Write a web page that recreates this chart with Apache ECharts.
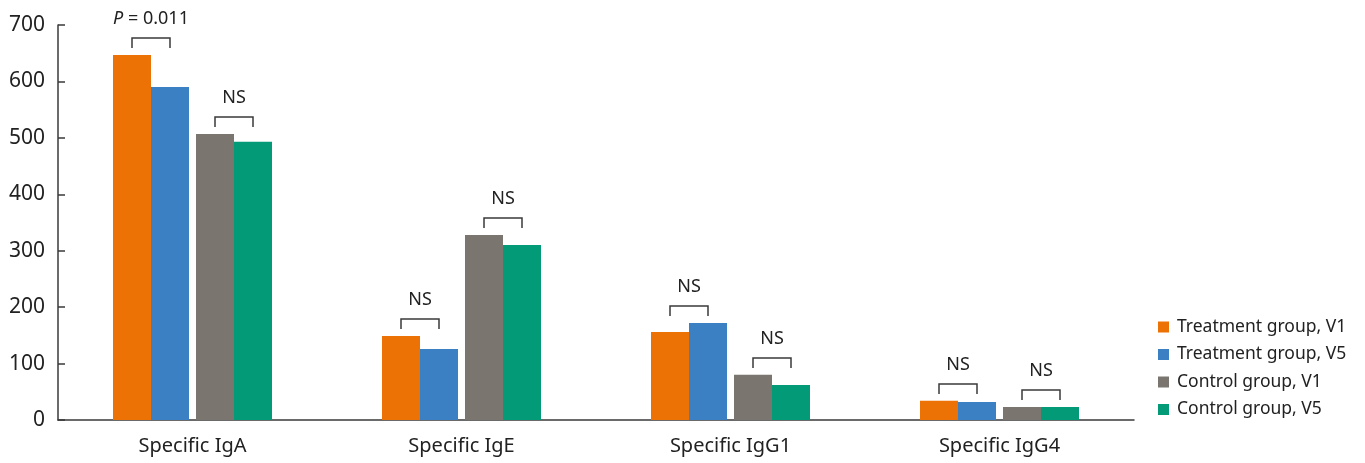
<!DOCTYPE html>
<html>
<head>
<meta charset="utf-8">
<script src="https://cdn.jsdelivr.net/npm/echarts@6/dist/echarts.min.js"></script>
<style>
  html, body { margin: 0; padding: 0; background: #fff; }
  #main { width: 1365px; height: 463px; }
</style>
</head>
<body>
<div id="main"></div>
<script>
// data
var categories = ['Specific IgA', 'Specific IgE', 'Specific IgG1', 'Specific IgG4'];
var treatV1 = [647, 149, 156, 34];
var treatV5 = [590, 126, 172, 32];
var controlV1 = [507, 328, 80, 23];
var controlV5 = [493, 310, 62, 23];
var seriesNames = ['Treatment group, V1', 'Treatment group, V5', 'Control group, V1', 'Control group, V5'];
var colors = ['#EC7206', '#3A80C3', '#7A766F', '#029A77'];
// brackets: [category, height, pair (0 = treatment, 1 = control)]
var brackets = [[0, 677, 0], [0, 537, 1], [1, 179, 0], [1, 358, 1], [2, 202, 0], [2, 110, 1], [3, 64, 0], [3, 53, 1]];
var bracketLabels = ['P = 0.011', 'NS', 'NS', 'NS', 'NS', 'NS', 'NS', 'NS'];

var BAR_W = 38, SPACER_W = 7;
var FONT = '"Noto Sans", "Open Sans", sans-serif';

function barSeries(i, values) {
  return {
    name: seriesNames[i], type: 'bar', data: values, barWidth: BAR_W, barGap: '0%',
    itemStyle: { color: colors[i] }
  };
}

// bracket over a pair of bars, offsets follow the bar widths
function renderBracket(params, api) {
  var c = api.coord([api.value(0), api.value(1)]);
  var pair = api.value(2);
  var total = BAR_W * 4 + SPACER_W;
  var left = c[0] - total / 2;
  var x1, x2;
  if (pair === 0) {
    x1 = left + BAR_W / 2; x2 = left + BAR_W * 1.5;
  } else {
    x1 = left + BAR_W * 2 + SPACER_W + BAR_W / 2; x2 = x1 + BAR_W;
  }
  var y = c[1];
  var txt = bracketLabels[params.dataIndex];
  var isP = txt.indexOf('P') === 0;
  return {
    type: 'group',
    children: [
      {
        type: 'polyline',
        shape: { points: [[x1, y + 10], [x1, y], [x2, y], [x2, y + 10]] },
        style: { stroke: '#3a3a3a', lineWidth: 1.5, fill: null }
      },
      {
        type: 'text',
        x: (x1 + x2) / 2, y: y - 19,
        style: {
          text: isP ? '{i|P} = 0.011' : txt,
          align: 'center', verticalAlign: 'middle',
          font: '18px ' + FONT, fill: '#222',
          rich: { i: { fontStyle: 'italic', fontSize: 18, fontFamily: FONT, fill: '#222', color: '#222' } }
        }
      }
    ]
  };
}

var myChart = echarts.init(document.getElementById('main'));
myChart.setOption({
  animation: false,
  textStyle: { fontFamily: FONT },
  grid: { left: 58, right: 231, top: 25, bottom: 43 },
  legend: {
    orient: 'vertical', left: 1153, top: 313,
    data: seriesNames, icon: 'rect', itemWidth: 11, itemHeight: 11, itemGap: 9.5,
    textStyle: { fontSize: 17.5, color: '#222', lineHeight: 18, padding: [0, 0, 0, 3] }
  },
  xAxis: {
    type: 'category', data: categories,
    axisLine: { lineStyle: { color: '#3a3a3a', width: 1.5 } },
    axisTick: { inside: true, length: 7, lineStyle: { color: '#3a3a3a', width: 1.5 } },
    axisLabel: { fontSize: 20, color: '#222', margin: 16 }
  },
  yAxis: {
    type: 'value', min: 0, max: 700, interval: 100,
    splitLine: { show: false },
    axisLine: { show: true, lineStyle: { color: '#3a3a3a', width: 1.5 } },
    axisTick: { show: true, inside: true, length: 7, lineStyle: { color: '#3a3a3a', width: 1.5 } },
    axisLabel: { fontSize: 21, color: '#222', margin: 13 }
  },
  series: [
    barSeries(0, treatV1),
    barSeries(1, treatV5),
    { name: 'spacer', type: 'bar', data: ['-', '-', '-', '-'], barWidth: SPACER_W, barGap: '0%' },
    barSeries(2, controlV1),
    barSeries(3, controlV5),
    {
      type: 'custom', data: brackets, renderItem: renderBracket, silent: true, clip: false, z: 5,
      encode: { x: 0, y: 1 }
    }
  ]
});
</script>
</body>
</html>
